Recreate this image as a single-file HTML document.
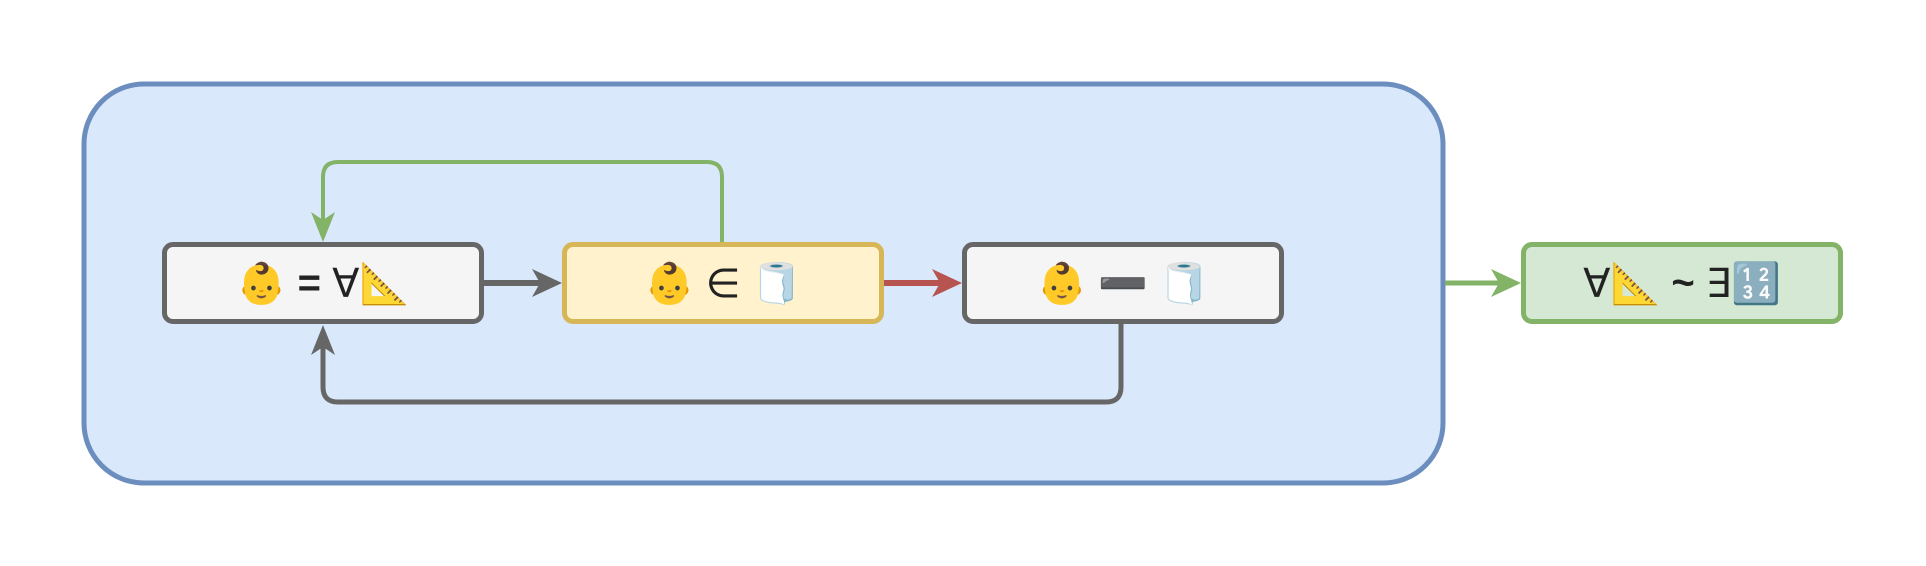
<!DOCTYPE html>
<html><head><meta charset="utf-8"><style>
body{margin:0;width:1926px;height:566px;background:#fff;overflow:hidden;position:relative;font-family:"Liberation Sans","DejaVu Sans",sans-serif}
.n{position:absolute;box-sizing:border-box;border:5.5px solid #666;border-radius:11px;background:#f5f5f5;display:flex;align-items:center;justify-content:center;font-size:40px;color:#222;top:242px;height:82px;width:322px}
svg{position:absolute;left:0;top:0}
</style></head><body>
<svg width="1926" height="566">
<rect x="84" y="84" width="1359" height="399" rx="60" fill="#dae8fc" stroke="#6c8ebf" stroke-width="5"/>
<path d="M722 242 V177 Q722 162 707 162 H338 Q323 162 323 177 V225" fill="none" stroke="#82b366" stroke-width="4"/>
<polygon points="323,242 311,212 323,220 335,212" fill="#82b366"/>
<path d="M1121 324 V387 Q1121 402 1106 402 H338 Q323 402 323 387 V342" fill="none" stroke="#666" stroke-width="5"/>
<polygon points="323,325 311,355 323,347 335,355" fill="#666"/>
<line x1="483" y1="283" x2="545" y2="283" stroke="#666" stroke-width="6"/>
<polygon points="562,283 532,269 540,283 532,297" fill="#666"/>
<line x1="883" y1="283" x2="945" y2="283" stroke="#b85450" stroke-width="6"/>
<polygon points="962,283 932,269 940,283 932,297" fill="#b85450"/>
<line x1="1445" y1="283" x2="1504" y2="283" stroke="#82b366" stroke-width="5"/>
<polygon points="1521,283 1491,269 1499,283 1491,297" fill="#82b366"/>
</svg>
<div class="n" style="left:162px">👶 <b>&nbsp;=&nbsp;</b>∀📐</div>
<div class="n" style="left:562px;background:#fff2cc;border-color:#d6b656">👶&nbsp;∈&nbsp;🧻</div>
<div class="n" style="left:962px">👶&nbsp;➖&nbsp;🧻</div>
<div class="n" style="left:1521px;background:#d5e8d4;border-color:#82b366">∀📐&nbsp;<b>~</b>&nbsp;∃🔢</div>
</body></html>
